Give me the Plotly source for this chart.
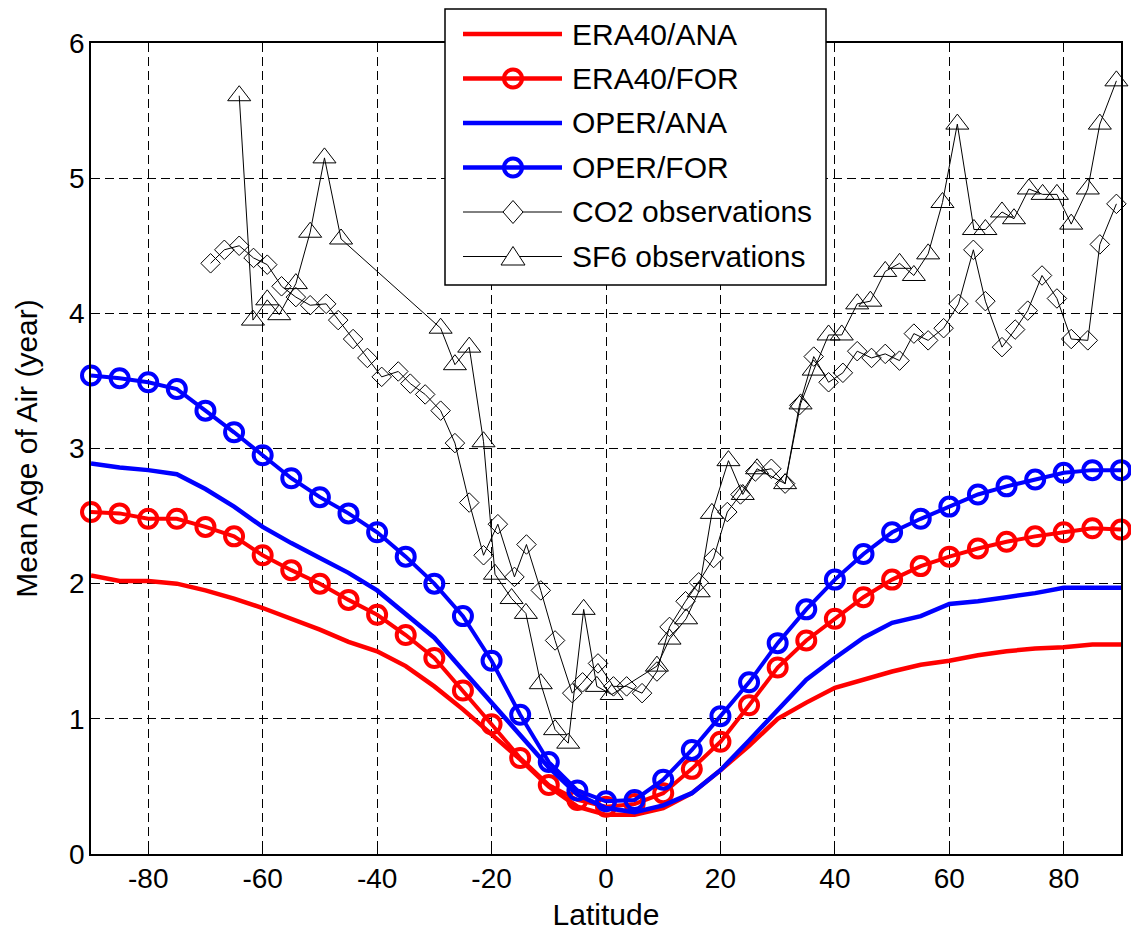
import plotly.graph_objects as go

# ---------------------------------------------------------------------------
# Data
# ---------------------------------------------------------------------------
# Model output on a regular 5-degree latitude grid
lat_model = list(range(-90, 91, 5))

era40_ana = [2.06, 2.02, 2.02, 2.00, 1.95, 1.89, 1.82, 1.74, 1.66, 1.57,
             1.50, 1.39, 1.24, 1.07, 0.89, 0.70, 0.50, 0.35, 0.29, 0.29,
             0.34, 0.45, 0.62, 0.80, 1.00, 1.12, 1.23, 1.29, 1.35, 1.40,
             1.43, 1.47, 1.50, 1.52, 1.53, 1.55, 1.55]

era40_for = [2.53, 2.52, 2.48, 2.48, 2.42, 2.35, 2.21, 2.10, 2.00, 1.88,
             1.77, 1.62, 1.45, 1.21, 0.96, 0.71, 0.51, 0.40, 0.35, 0.37,
             0.45, 0.63, 0.83, 1.10, 1.38, 1.58, 1.74, 1.90, 2.03, 2.13,
             2.20, 2.26, 2.31, 2.35, 2.38, 2.41, 2.40]

oper_ana = [2.89, 2.86, 2.84, 2.81, 2.70, 2.57, 2.42, 2.30, 2.19, 2.08,
            1.95, 1.78, 1.60, 1.36, 1.12, 0.88, 0.64, 0.44, 0.34, 0.31,
            0.36, 0.45, 0.62, 0.84, 1.07, 1.29, 1.45, 1.60, 1.71, 1.76,
            1.85, 1.87, 1.90, 1.93, 1.97, 1.97, 1.97]

oper_for = [3.54, 3.52, 3.49, 3.44, 3.28, 3.12, 2.95, 2.78, 2.64, 2.52,
            2.38, 2.20, 2.00, 1.76, 1.43, 1.03, 0.68, 0.47, 0.39, 0.40,
            0.55, 0.77, 1.02, 1.27, 1.56, 1.81, 2.03, 2.22, 2.38, 2.48,
            2.57, 2.66, 2.72, 2.77, 2.82, 2.84, 2.84]

# Balloon / aircraft observations (irregular latitudes)
co2_lat = [-69.1, -66.7, -64.1, -61.6, -59.2, -56.7, -54.2, -51.7, -48.9, -46.8,
           -44.2, -41.7, -39.2, -36.3, -34.2, -31.6, -28.9, -26.4, -23.9, -21.4,
           -18.9, -16.0, -13.9, -11.4, -8.9, -5.9, -4.1, -1.4, 1.3, 3.6,
           6.3, 8.9, 11.1, 13.9, 16.2, 18.8, 21.2, 23.5, 26.1, 28.9,
           31.3, 33.8, 36.3, 38.9, 41.4, 43.9, 46.4, 48.8, 51.3, 53.8,
           56.3, 59.0, 61.6, 64.2, 66.3, 69.2, 71.5, 73.7, 76.2, 78.8,
           81.3, 84.2, 86.3, 89.2]
co2_age = [4.37, 4.47, 4.50, 4.41, 4.36, 4.20, 4.12, 4.06, 4.07, 3.95,
           3.81, 3.67, 3.53, 3.57, 3.48, 3.40, 3.28, 3.04, 2.60, 2.21,
           2.44, 2.05, 2.29, 1.95, 1.58, 1.19, 1.27, 1.41, 1.24, 1.24,
           1.19, 1.35, 1.68, 1.87, 2.01, 2.19, 2.53, 2.66, 2.83, 2.85,
           2.74, 3.32, 3.68, 3.49, 3.56, 3.72, 3.67, 3.70, 3.65, 3.85,
           3.80, 3.89, 4.07, 4.47, 4.09, 3.75, 3.88, 4.02, 4.28, 4.11,
           3.81, 3.80, 4.51, 4.81]

sf6_lat = [-64.1, -61.7, -59.2, -57.1, -54.2, -51.7, -49.2, -46.3, -28.9, -26.4,
           -23.9, -21.4, -19.4, -16.5, -14.0, -11.4, -8.9, -6.6, -3.9, -1.6,
           1.0, 8.9, 11.1, 14.0, 16.2, 18.5, 21.4, 23.9, 26.4, 31.3,
           34.0, 36.3, 38.9, 41.2, 43.9, 46.2, 48.8, 51.3, 53.8, 56.3,
           58.8, 61.4, 64.3, 66.3, 69.2, 71.3, 73.9, 76.3, 78.8, 81.3,
           84.2, 86.3, 89.2]
sf6_age = [5.61, 3.95, 4.10, 3.99, 4.22, 4.60, 5.15, 4.55, 3.89, 3.62,
           3.75, 3.05, 2.07, 1.89, 1.78, 1.26, 0.92, 0.82, 1.81, 1.24,
           1.18, 1.39, 1.59, 1.74, 1.94, 2.52, 2.91, 2.66, 2.85, 2.74,
           3.33, 3.58, 3.84, 3.84, 4.07, 4.09, 4.31, 4.37, 4.28, 4.44,
           4.82, 5.40, 4.62, 4.62, 4.75, 4.70, 4.92, 4.88, 4.88, 4.66,
           4.92, 5.40, 5.72]

series_names = ["ERA40/ANA", "ERA40/FOR", "OPER/ANA", "OPER/FOR",
                "CO2 observations", "SF6 observations"]

x_ticks = [-80, -60, -40, -20, 0, 20, 40, 60, 80]
x_tick_text = ["-80", "-60", "-40", "-20", "0", "20", "40", "60", "80"]
y_ticks = [0, 1, 2, 3, 4, 5, 6]
y_tick_text = ["0", "1", "2", "3", "4", "5", "6"]

RED = "#ff0000"
BLUE = "#0000ff"
FONT = "Liberation Sans, Arial, Helvetica, sans-serif"

# ---------------------------------------------------------------------------
# Traces
# ---------------------------------------------------------------------------
fig = go.Figure()

fig.add_trace(go.Scatter(x=lat_model, y=era40_ana, name=series_names[0], mode="lines",
                         line=dict(color=RED, width=4.5), cliponaxis=False))
fig.add_trace(go.Scatter(x=lat_model, y=era40_for, name=series_names[1], mode="lines+markers",
                         line=dict(color=RED, width=4),
                         marker=dict(symbol="circle-open", size=18, color=RED,
                                     line=dict(width=4, color=RED)),
                         cliponaxis=False))
fig.add_trace(go.Scatter(x=lat_model, y=oper_ana, name=series_names[2], mode="lines",
                         line=dict(color=BLUE, width=4.5), cliponaxis=False))
fig.add_trace(go.Scatter(x=lat_model, y=oper_for, name=series_names[3], mode="lines+markers",
                         line=dict(color=BLUE, width=4),
                         marker=dict(symbol="circle-open", size=18, color=BLUE,
                                     line=dict(width=4, color=BLUE)),
                         cliponaxis=False))
fig.add_trace(go.Scatter(x=co2_lat, y=co2_age, name=series_names[4], mode="lines+markers",
                         line=dict(color="black", width=1),
                         marker=dict(symbol="diamond-open", size=15, color="black",
                                     line=dict(width=1, color="black")),
                         cliponaxis=False))
fig.add_trace(go.Scatter(x=sf6_lat, y=sf6_age, name=series_names[5], mode="lines+markers",
                         line=dict(color="black", width=1),
                         marker=dict(symbol="triangle-up-open", size=20, color="black",
                                     line=dict(width=1, color="black")),
                         cliponaxis=False))

# ---------------------------------------------------------------------------
# Boxed legend in the upper centre (pixel layout converted to paper units)
# ---------------------------------------------------------------------------
PLOT_L, PLOT_R, PLOT_T, PLOT_B = 91, 1121, 43, 854


def px(x):
    return (x - PLOT_L) / (PLOT_R - PLOT_L)


def py(y):
    return (PLOT_B - y) / (PLOT_B - PLOT_T)


shapes = [dict(type="rect", xref="paper", yref="paper",
               x0=px(445), x1=px(826), y0=py(285), y1=py(9),
               line=dict(color="black", width=1.5), fillcolor="white", layer="above")]
annotations = []

row_y = [34, 78.5, 123, 167.5, 212, 256.5]
styles = [("line", RED), ("circle", RED), ("line", BLUE), ("circle", BLUE),
          ("diamond", "black"), ("triangle", "black")]
LX0, LX1, MX = 463, 562, 513

for name, yy, (kind, col) in zip(series_names, row_y, styles):
    thick = kind in ("line", "circle")
    shapes.append(dict(type="line", xref="paper", yref="paper",
                       x0=px(LX0), x1=px(LX1), y0=py(yy), y1=py(yy),
                       line=dict(color=col, width=4.5 if thick else 1), layer="above"))
    if kind == "circle":
        shapes.append(dict(type="circle", xref="paper", yref="paper",
                           x0=px(MX - 9), x1=px(MX + 9), y0=py(yy + 9), y1=py(yy - 9),
                           line=dict(color=col, width=4), layer="above"))
    elif kind == "diamond":
        path = "M {a},{b} L {c},{d} L {a},{e} L {f},{d} Z".format(
            a=px(MX), b=py(yy - 11.5), c=px(MX + 10), d=py(yy), e=py(yy + 11.5), f=px(MX - 10))
        shapes.append(dict(type="path", xref="paper", yref="paper", path=path,
                           line=dict(color="black", width=1), fillcolor="white", layer="above"))
    elif kind == "triangle":
        path = "M {a},{b} L {c},{d} L {f},{d} Z".format(
            a=px(MX), b=py(yy - 10), c=px(MX + 12), d=py(yy + 8.5), f=px(MX - 12))
        shapes.append(dict(type="path", xref="paper", yref="paper", path=path,
                           line=dict(color="black", width=1), fillcolor="white", layer="above"))
    annotations.append(dict(xref="paper", yref="paper", x=px(570), y=py(yy),
                            xanchor="left", yanchor="middle", text=name, showarrow=False,
                            font=dict(family=FONT, size=30, color="black")))

# ---------------------------------------------------------------------------
# Layout
# ---------------------------------------------------------------------------
axis_common = dict(
    showline=True, linecolor="black", linewidth=1.5, mirror="ticks",
    ticks="inside", ticklen=8, tickwidth=1, tickcolor="black",
    showgrid=True, gridcolor="black", gridwidth=1, griddash="9px,5px",
    zeroline=False,
    tickfont=dict(family=FONT, size=28, color="black"),
)

fig.update_layout(
    width=1131, height=934,
    margin=dict(l=PLOT_L, r=1131 - PLOT_R, t=PLOT_T, b=934 - PLOT_B, autoexpand=False),
    paper_bgcolor="white", plot_bgcolor="white",
    showlegend=False,
    font=dict(family=FONT, color="black"),
    xaxis=dict(range=[-90, 90], tickvals=x_ticks, ticktext=x_tick_text, ticklabelstandoff=-1,
               title=dict(text="Latitude", font=dict(family=FONT, size=30, color="black"),
                          standoff=11),
               **axis_common),
    yaxis=dict(range=[0, 6], tickvals=y_ticks, ticktext=y_tick_text, ticklabelstandoff=-1,
               title=dict(text="Mean Age of Air (year)",
                          font=dict(family=FONT, size=30, color="black"), standoff=23),
               **axis_common),
    shapes=shapes,
    annotations=annotations,
)

fig.write_html("out.html")
